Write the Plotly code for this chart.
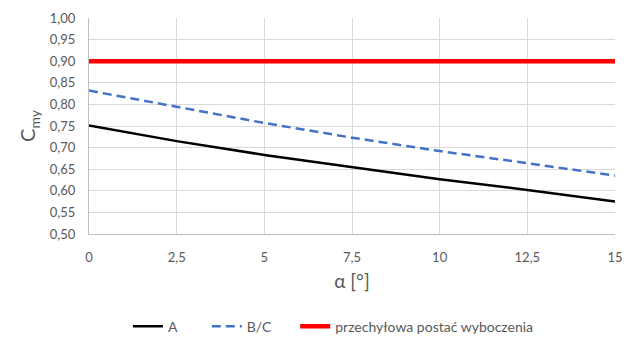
import plotly.graph_objects as go

alpha = [0, 2.5, 5, 7.5, 10, 12.5, 15]
cmy_A = [0.751, 0.715, 0.683, 0.655, 0.627, 0.602, 0.575]
cmy_BC = [0.832, 0.795, 0.757, 0.723, 0.692, 0.664, 0.635]
cmy_red = [0.90, 0.90, 0.90, 0.90, 0.90, 0.90, 0.90]
names = ["A", "B/C", "przechyłowa postać wyboczenia"]
xtick_vals = [0, 2.5, 5, 7.5, 10, 12.5, 15]
xtick_text = ["0", "2,5", "5", "7,5", "10", "12,5", "15"]

fig = go.Figure()
fig.add_trace(go.Scatter(x=alpha, y=cmy_A, mode="lines", name=names[0], legend="legend",
                         line=dict(color="black", width=2.5)))
fig.add_trace(go.Scatter(x=alpha, y=cmy_BC, mode="lines", name=names[1], legend="legend2",
                         line=dict(color="#4472C4", width=2.5, dash="9px,5px")))
fig.add_trace(go.Scatter(x=alpha, y=cmy_red, mode="lines", name=names[2], legend="legend3",
                         line=dict(color="#FF0000", width=4.5)))

tickfont = dict(family="Lato, Open Sans, sans-serif", size=13, color="#595959")
legfont = dict(size=14, color="#595959")
leg_y = -0.355
fig.update_layout(
    width=638, height=343,
    margin=dict(l=89, r=23, t=18, b=109, autoexpand=False),
    plot_bgcolor="white", paper_bgcolor="white",
    font=dict(family="Lato, Open Sans, sans-serif", color="#595959"),
    xaxis=dict(range=[0, 15], tickvals=xtick_vals, ticktext=xtick_text,
               showgrid=True, gridcolor="#D9D9D9", gridwidth=1,
               showline=True, linecolor="#BFBFBF", zeroline=False,
               tickfont=tickfont, ticks="outside", ticklen=11, tickcolor="rgba(0,0,0,0)",
               automargin=False,
               title=dict(text="α [°]", font=dict(size=19, color="#595959"), standoff=11)),
    yaxis=dict(range=[0.5, 1.0], dtick=0.05, tickformat=".2f",
               showgrid=True, gridcolor="#D9D9D9", gridwidth=1,
               showline=True, linecolor="#BFBFBF", zeroline=False,
               tickfont=tickfont, ticks="outside", ticklen=10, tickcolor="rgba(0,0,0,0)",
               automargin=False,
               title=dict(text="C<sub>my</sub>", font=dict(size=20, color="#595959"), standoff=8)),
    separators=", ",
    legend=dict(orientation="h", x=0.074, xanchor="left", y=leg_y, yanchor="top",
                font=legfont, itemwidth=30),
    legend2=dict(orientation="h", x=0.224, xanchor="left", y=leg_y, yanchor="top",
                 font=legfont, itemwidth=30),
    legend3=dict(orientation="h", x=0.392, xanchor="left", y=leg_y, yanchor="top",
                 font=legfont, itemwidth=30),
    showlegend=True,
)
fig.write_html("out.html")
